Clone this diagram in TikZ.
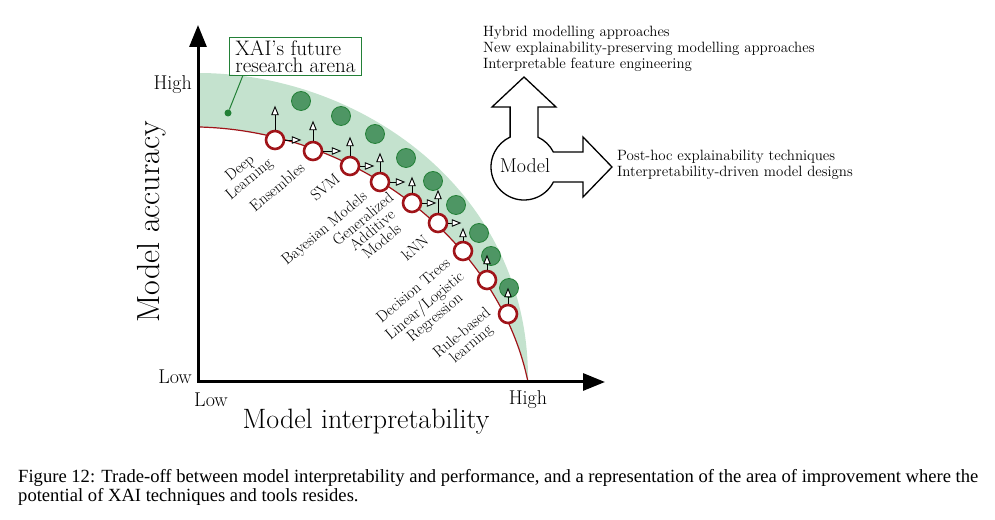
\documentclass[tikz,border=0pt]{standalone}
\usepackage{fontspec}
\newfontfamily\capfont{Liberation Serif}
\usetikzlibrary{arrows.meta}
\definecolor{tradered}{RGB}{160,20,25}
\definecolor{bandgreen}{RGB}{196,226,206}
\definecolor{dotgreen}{RGB}{78,150,100}
\definecolor{darkgreen}{RGB}{35,128,55}

\begin{document}
\begin{tikzpicture}[x=1pt,y=1pt,
    method/.style={rotate=40,align=center,font=\fontsize{15.8}{14.5}\selectfont},
    model/.style={circle,draw=tradered,line width=2.6pt,fill=white,minimum size=18pt,inner sep=0pt},
    better/.style={circle,draw=darkgreen,fill=dotgreen,line width=0.8pt,minimum size=19pt,inner sep=0pt},
    push/.style={-{Triangle[length=9.5pt,width=7.5pt,fill=white]},line width=0.9pt},
    tick/.style={font=\fontsize{20}{22}\selectfont,inner sep=0pt},
    note/.style={align=left,font=\fontsize{14.9}{16.2}\selectfont,inner sep=0pt}]

\useasboundingbox (0,0) rectangle (995,519);

% research arena band and trade-off curve
\fill[bandgreen] (198,446) .. controls (360,446) and (530,329) .. (528,137)
    .. controls (500,274) and (360,388) .. (199,392) -- cycle;
\draw[tradered,line width=1.2pt] (199,392) .. controls (360,388) and (500,274) .. (528,137);

% axes
\draw[line width=3pt,{Triangle[length=22pt,width=17pt]}-{Triangle[length=22pt,width=17pt]}]
    (198,494) -- (198,137) -- (605,137);
\node[tick,anchor=east] (yhigh) at (192,434) {High};
\node[tick,anchor=east] (ylow) at (192,142) {Low};
\node[tick] (xlow) at (211,119) {Low};
\node[tick] (xhigh) at (528,119) {High};
\node[font=\fontsize{28}{30}\selectfont] (xlabel) at (366,97) {Model interpretability};
\node[font=\fontsize{32}{34}\selectfont,rotate=90] (ylabel) at (152,297) {Model accuracy};

% improved models
\foreach \n/\x/\y in {dl/301/418, ens/341/403, svm/375/385, bay/406/361, gam/433/338,
    knn/456/314, dt/479/286, lr/491/263, rb/509/231}
    \node[better] (g\n) at (\x,\y) {};

% current models
\foreach \n/\x/\y in {dl/275/379, ens/313/368, svm/350/353, bay/380/337, gam/412/316,
    knn/438/296, dt/463/268, lr/487/239, rb/508/205}
    \node[model] (\n) at (\x,\y) {};

\foreach \n/\l in {dl/24, ens/20, svm/19, bay/19, gam/16, knn/23, dt/13, lr/15, rb/16}
    \draw[push] (\n.north) -- ++(0,\l);
\foreach \n/\l in {dl/16, ens/18, svm/14, bay/15, gam/14, knn/13}
    \draw[push] (\n.east) -- ++(\l,0);

\node[method] (ldl) at (245,345) {Deep\\Learning};
\node[method] (lens) at (277,332) {Ensembles};
\node[method] (lsvm) at (325,332) {SVM};
\node[method] (lbay) at (325,290) {Bayesian Models};
\node[method] (lgam) at (372,289) {Generalized\\Additive\\Models};
\node[method] (lknn) at (415,271) {kNN};
\node[method] (ldt) at (413,229) {Decision Trees};
\node[method] (llr) at (430,207) {Linear/Logistic\\Regression};
\node[method] (lrb) at (467,180) {Rule-based\\learning};

% future research arena
\node[draw=darkgreen,line width=1.5pt,align=left,font=\fontsize{21}{16.5}\selectfont,
    inner xsep=6pt,inner ysep=3pt] (arena) at (295.5,462.5) {XAI's future\\research arena};
\node[circle,fill=darkgreen,inner sep=0pt,minimum size=7pt] (spot) at (228,406) {};
\draw[darkgreen,line width=1pt] (spot) -- ([xshift=14pt]arena.south west);

% model with two ways out
\draw[line width=1.3pt] (510.1,381.9) -- (510.1,412) -- (492,412) -- (524,442) -- (556,412)
    -- (537.9,412) -- (537.9,381.9) arc[start angle=65,end angle=27,radius=33]
    -- (583,367) -- (583,382) -- (612,352) -- (583,322) -- (583,337) -- (553.4,337)
    arc[start angle=-27,end angle=-245,radius=33] -- cycle;
\node[tick] (model) at (525,353) {Model};
\node[note,anchor=north west] (future) at (483,493) {Hybrid modelling approaches\\
    New explainability-preserving modelling approaches\\Interpretable feature engineering};
\node[note,anchor=west] (posthoc) at (617,354) {Post-hoc explainability techniques\\
    Interpretability-driven model designs};

% caption
\node[anchor=north west,align=left,inner sep=0pt,font=\capfont\fontsize{18.6}{19}\selectfont]
    (caption) at (18,50) {Figure 12: Trade-off between model interpretability and performance,
    and a representation of the area of improvement where the\\potential of XAI techniques
    and tools resides.};
\end{tikzpicture}
\end{document}
